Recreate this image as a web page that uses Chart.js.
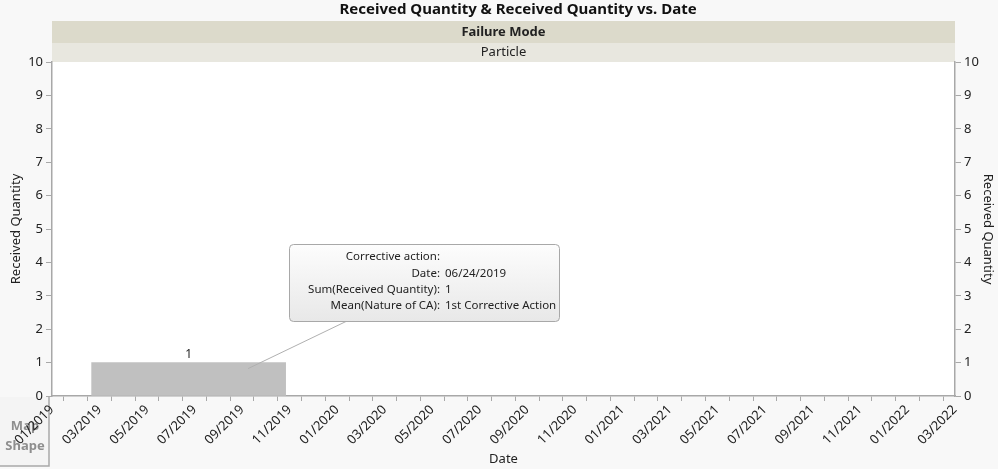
<!DOCTYPE html>
<html>
<head>
<meta charset="utf-8">
<script src="https://cdn.jsdelivr.net/npm/chart.js@4.4.1/dist/chart.umd.min.js"></script>
<style>
  html, body { margin: 0; padding: 0; background: #f8f8f8; overflow: hidden; }
  #wrap { width: 998px; height: 469px; position: relative; }
</style>
</head>
<body>
<div id="wrap"><canvas id="chart"></canvas></div>
<script>
// x axis is months since 01/2019
const monthLabels = ['01/2019', '03/2019', '05/2019', '07/2019', '09/2019', '11/2019',
  '01/2020', '03/2020', '05/2020', '07/2020', '09/2020', '11/2020',
  '01/2021', '03/2021', '05/2021', '07/2021', '09/2021', '11/2021',
  '01/2022', '03/2022'];
const barMonths = [5.75];        // 06/24/2019
const receivedQty = [1];
const calloutRows = [
  ['Corrective action:', ''],
  ['Date:', '06/24/2019'],
  ['Sum(Received Quantity):', '1'],
  ['Mean(Nature of CA):', '1st Corrective Action']
];
const calloutTarget = [8.25, 0.82];

const FONT = '"Noto Sans", "Open Sans", sans-serif';
const AXIS = '#a8a8a8';
const TEXT = '#222222';

const decor = {
  id: 'decor',
  beforeDraw(chart) {
    const { ctx, chartArea: a, width, height } = chart;
    ctx.save();
    ctx.fillStyle = '#f8f8f8';
    ctx.fillRect(0, 0, width, height);
    ctx.fillStyle = '#ffffff';
    ctx.fillRect(a.left, a.top, a.right - a.left, a.bottom - a.top);

    // header bands
    ctx.fillStyle = '#dcdacb';
    ctx.fillRect(a.left, 21, a.right - a.left, 22);
    ctx.fillStyle = '#e8e7df';
    ctx.fillRect(a.left, 43, a.right - a.left, a.top - 43);
    const cx = (a.left + a.right) / 2;
    ctx.textAlign = 'center';
    ctx.textBaseline = 'middle';
    ctx.fillStyle = TEXT;
    ctx.font = 'bold 13px ' + FONT;
    ctx.fillText('Failure Mode', cx, 32);
    ctx.font = '13px ' + FONT;
    ctx.fillText('Particle', cx, 52);

    // title
    ctx.font = 'bold 15px ' + FONT;
    ctx.fillStyle = '#111';
    ctx.fillText('Received Quantity & Received Quantity vs. Date', 518, 10);

    // map shape box
    ctx.fillStyle = '#f4f4f4';
    ctx.fillRect(0, 397, 49, 69);
    ctx.strokeStyle = AXIS;
    ctx.lineWidth = 1.5;
    ctx.beginPath();
    ctx.moveTo(49, 397);
    ctx.lineTo(49, 466);
    ctx.lineTo(0, 466);
    ctx.stroke();
    ctx.fillStyle = '#8e8e8e';
    ctx.font = 'bold 13px ' + FONT;
    ctx.fillText('Map', 25, 426);
    ctx.fillText('Shape', 25, 446);
    ctx.restore();
  },
  afterDatasetsDraw(chart) {
    const { ctx, scales } = chart;
    ctx.save();
    // value label above the bar
    const meta = chart.getDatasetMeta(0);
    ctx.fillStyle = TEXT;
    ctx.font = '12px ' + FONT;
    ctx.textAlign = 'center';
    ctx.textBaseline = 'bottom';
    meta.data.forEach((bar, i) => {
      ctx.fillText(String(receivedQty[i]), bar.x, bar.y - 2);
    });

    // callout box
    const bx = 289, by = 244, bw = 270, bh = 77;
    const tx = scales.x.getPixelForValue(calloutTarget[0]);
    const ty = scales.y.getPixelForValue(calloutTarget[1]);
    ctx.strokeStyle = '#b0b0b0';
    ctx.lineWidth = 1;
    ctx.beginPath();
    ctx.moveTo(347, by + bh);
    ctx.lineTo(tx, ty);
    ctx.stroke();

    const g = ctx.createLinearGradient(0, by, 0, by + bh);
    g.addColorStop(0, '#fdfdfd');
    g.addColorStop(1, '#e8e8e8');
    ctx.fillStyle = g;
    ctx.beginPath();
    ctx.roundRect(bx + 0.5, by + 0.5, bw, bh, 4);
    ctx.fill();
    ctx.strokeStyle = '#a8a8a8';
    ctx.stroke();

    ctx.fillStyle = TEXT;
    ctx.font = '11.5px ' + FONT;
    ctx.textBaseline = 'middle';
    calloutRows.forEach((row, i) => {
      const y = by + 13 + i * 16.3;
      ctx.textAlign = 'right';
      ctx.fillText(row[0], 440, y);
      ctx.textAlign = 'left';
      ctx.fillText(row[1], 445, y);
    });
    ctx.restore();
  }
};

new Chart(document.getElementById('chart'), {
  type: 'bar',
  data: {
    datasets: [{
      data: barMonths.map((m, i) => ({ x: m, y: receivedQty[i] })),
      backgroundColor: '#c0c0c0',
      borderWidth: 0,
      barThickness: 194,
      yAxisID: 'y'
    }]
  },
  options: {
    responsive: true,
    maintainAspectRatio: false,
    animation: false,
    layout: { padding: { top: 62 } },
    plugins: { legend: { display: false }, tooltip: { enabled: false } },
    scales: {
      x: {
        type: 'linear',
        min: 0,
        max: 38,
        offset: false,
        afterFit: s => { s.height = 73; },
        border: { color: AXIS, width: 1.5 },
        grid: { drawOnChartArea: false, color: AXIS, tickLength: 5 },
        ticks: {
          stepSize: 1,
          autoSkip: false,
          minRotation: 45,
          maxRotation: 45,
          padding: 1,
          color: TEXT,
          font: { family: FONT, size: 13 },
          callback: v => (v % 2 === 0 ? monthLabels[v / 2] : '')
        },
        title: {
          display: true,
          text: 'Date',
          color: TEXT,
          font: { family: FONT, size: 13 },
          padding: { top: 0, bottom: 2 }
        }
      },
      y: {
        position: 'left',
        min: 0,
        max: 10,
        afterFit: s => { s.width = 52; },
        border: { color: AXIS, width: 1.5 },
        grid: { drawOnChartArea: false, color: AXIS, tickLength: 6 },
        ticks: { stepSize: 1, padding: 3, color: TEXT, font: { family: FONT, size: 13 } },
        title: {
          display: true,
          text: 'Received Quantity',
          color: TEXT,
          font: { family: FONT, size: 13 },
          padding: { top: 8, bottom: 0 }
        }
      },
      y2: {
        position: 'right',
        min: 0,
        max: 10,
        afterFit: s => { s.width = 43; },
        border: { color: AXIS, width: 1.5 },
        grid: { drawOnChartArea: false, color: AXIS, tickLength: 6 },
        ticks: { stepSize: 1, padding: 3, color: TEXT, font: { family: FONT, size: 13 } },
        title: {
          display: true,
          text: 'Received Quantity',
          color: TEXT,
          font: { family: FONT, size: 13 },
          padding: { top: 2, bottom: 0 }
        }
      }
    }
  },
  plugins: [decor]
});
</script>
</body>
</html>
